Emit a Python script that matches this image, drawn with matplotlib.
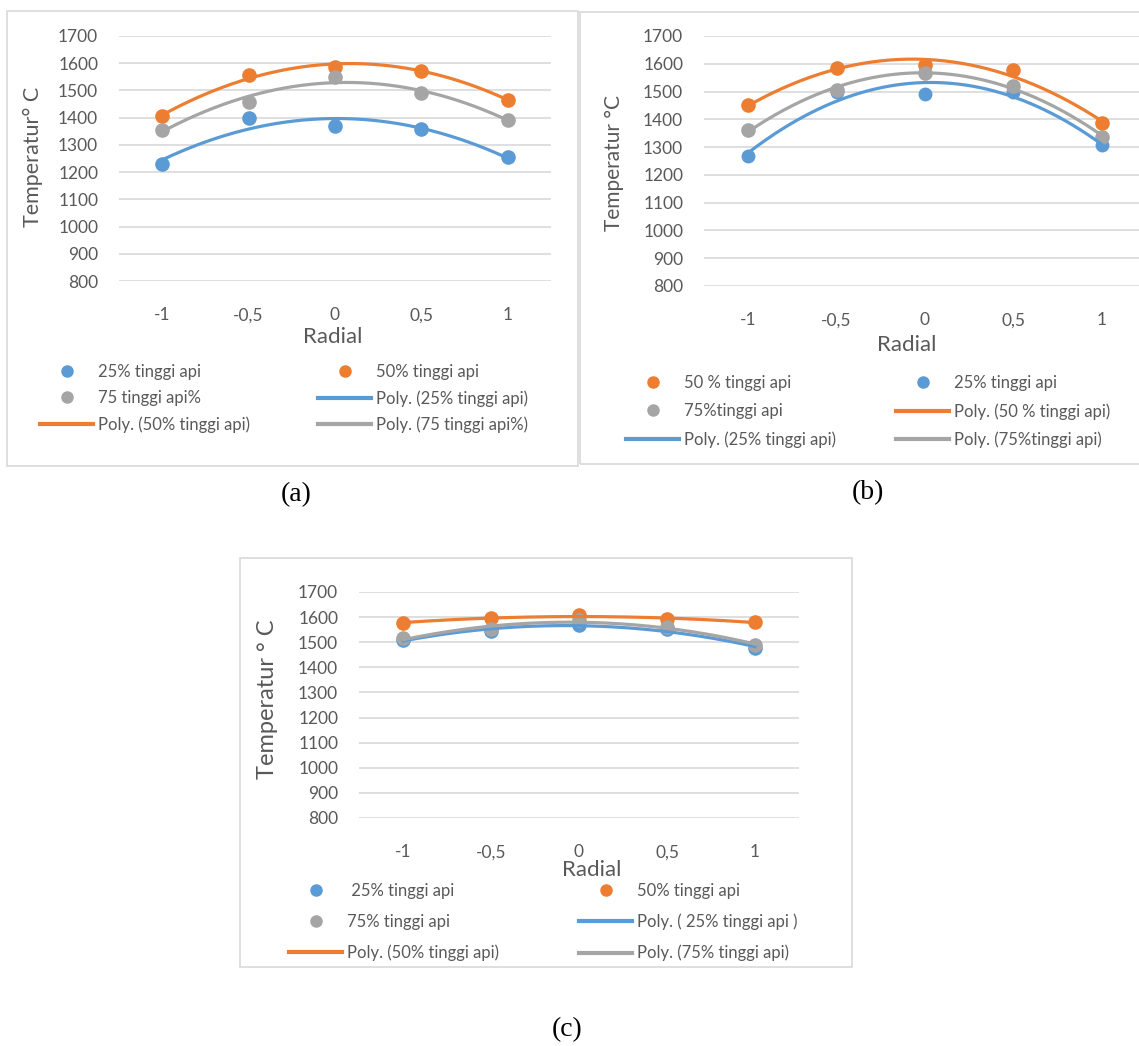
import matplotlib
import numpy as np

matplotlib.use("Agg")
import matplotlib.pyplot as plt
from matplotlib.lines import Line2D
from matplotlib.patches import Rectangle

plt.rcParams["font.family"] = ["Lato", "DejaVu Sans"]

# Radial positions (shared by all three charts)
radial = [-1, -0.5, 0, 0.5, 1]
tick_labels = ["-1", "-0,5", "0", "0,5", "1"]
y_ticks = [800, 900, 1000, 1100, 1200, 1300, 1400, 1500, 1600, 1700]

# (a)
a_25 = [1230, 1397, 1370, 1358, 1257]
a_50 = [1405, 1556, 1587, 1573, 1466]
a_75 = [1356, 1456, 1551, 1492, 1390]

# (b)
b_50 = [1450, 1586, 1595, 1576, 1386]
b_25 = [1269, 1500, 1492, 1500, 1307]
b_75 = [1361, 1505, 1568, 1520, 1337]

# (c)
c_25 = [1510, 1543, 1567, 1551, 1478]
c_50 = [1578, 1595, 1607, 1591, 1580]
c_75 = [1515, 1551, 1587, 1559, 1490]

BLUE = "#5B9BD5"
ORANGE = "#ED7D31"
GRAY = "#A5A5A5"
TEXT = "#595959"
GRID = "#D9D9D9"

W, H = 1139, 1046
fig = plt.figure(figsize=(W / 100, H / 100), dpi=100)
fig.patch.set_facecolor("white")


def fx(px):
    return px / W


def fy(py):
    return 1 - py / H


def box(x0, y0, x1, y1):
    fig.patches.append(
        Rectangle((fx(x0), fy(y1)), fx(x1) - fx(x0), fy(y0) - fy(y1),
                  transform=fig.transFigure, fill=False, edgecolor=GRID, lw=1.2)
    )


def panel(x_left, x_right, y_top, y_bot, series, ylabel, ylab_x, ylab_y, ylab_size, radial_xy):
    ax = fig.add_axes([fx(x_left), fy(y_bot), fx(x_right) - fx(x_left), fy(y_top) - fy(y_bot)])
    ax.set_xlim(-1.25, 1.25)
    ax.set_ylim(800, 1700)
    ax.set_yticks(y_ticks)
    ax.set_xticks(radial)
    ax.set_xticklabels(tick_labels)
    ax.tick_params(length=0, labelsize=12.5, labelcolor=TEXT)
    ax.tick_params(axis="y", pad=15)
    ax.tick_params(axis="x", pad=19)
    for s in ax.spines.values():
        s.set_visible(False)
    ax.grid(axis="y", color=GRID, lw=1.2)
    ax.set_axisbelow(True)
    ax.patch.set_alpha(0)
    xs = np.linspace(-1, 1, 200)
    for vals, color, ms in series:
        ax.plot(radial, vals, "o", color=color, ms=ms, zorder=2, clip_on=False)
    # Excel-style 2nd order polynomial trendlines
    for vals, color, ms in series:
        coef = np.polyfit(radial, vals, 2)
        ax.plot(xs, np.polyval(coef, xs), color=color, lw=2.3, zorder=3)
    fig.text(fx(ylab_x), fy(ylab_y), ylabel, rotation=90, ha="center", va="center",
             fontsize=ylab_size, color=TEXT)
    fig.text(fx(radial_xy[0]), fy(radial_xy[1]), "Radial", ha="center", va="center",
             fontsize=16, color=TEXT)
    return ax


def legend_col(x0, y0, entries, spacing):
    handles = []
    labels = []
    for kind, color, label in entries:
        if kind == "m":
            handles.append(Line2D([], [], ls="none", marker="o", color=color, ms=8))
        else:
            handles.append(Line2D([], [], color=color, lw=3))
        labels.append(label)
    fig.legend(handles, labels, loc="upper left", bbox_to_anchor=(fx(x0), fy(y0)),
               frameon=False, borderpad=0, borderaxespad=0, fontsize=12,
               handlelength=3.2, handletextpad=0.3, labelspacing=spacing,
               labelcolor=TEXT)


def caption(x, y, s):
    fig.text(fx(x), fy(y), s, ha="center", va="center", fontsize=20,
             family="Liberation Serif", color="black")


# ---- (a)
box(7, 11, 578, 466)
panel(119, 551, 36, 281,
      [(a_25, BLUE, 9.5), (a_50, ORANGE, 9.5), (a_75, GRAY, 9.5)],
      "Temperatur\u00b0 C", 33, 157, 15.5, (333, 337))
legend_col(40, 364, [("m", BLUE, "25% tinggi api"), ("m", GRAY, "75 tinggi api%"),
                     ("l", ORANGE, "Poly. (50% tinggi api)")], 0.6)
legend_col(318, 364, [("m", ORANGE, "50% tinggi api"), ("l", BLUE, "Poly. (25% tinggi api)"),
                      ("l", GRAY, "Poly. (75 tinggi api%)")], 0.6)
caption(296, 495, "(a)")

# ---- (b)
box(580, 12, 1150, 464)
panel(704, 1146, 36, 286,
      [(b_50, ORANGE, 9.5), (b_25, BLUE, 9), (b_75, GRAY, 9.5)],
      "Temperatur \u00b0C", 614, 163, 15, (907, 345))
legend_col(626, 375, [("m", ORANGE, "50 % tinggi api"), ("m", GRAY, "75%tinggi api"),
                      ("l", BLUE, "Poly. (25% tinggi api)")], 0.72)
legend_col(896, 375, [("m", BLUE, "25% tinggi api"), ("l", ORANGE, "Poly. (50 % tinggi api)"),
                      ("l", GRAY, "Poly. (75%tinggi api)")], 0.72)
caption(868, 493, "(b)")

# ---- (c)
box(240, 558, 852, 967)
panel(359, 799, 592, 818,
      [(c_25, BLUE, 9.5), (c_50, ORANGE, 9.5), (c_75, GRAY, 9.5)],
      "Temperatur \u00b0 C", 267, 699, 17, (592, 870))
legend_col(289, 883, [("m", BLUE, " 25% tinggi api"), ("m", GRAY, "75% tinggi api"),
                      ("l", ORANGE, "Poly. (50% tinggi api)")], 0.88)
legend_col(579, 883, [("m", ORANGE, "50% tinggi api"), ("l", BLUE, "Poly. ( 25% tinggi api )"),
                      ("l", GRAY, "Poly. (75% tinggi api)")], 0.88)
caption(567, 1030, "(c)")

fig.savefig("out.png", dpi=100, facecolor="white")
